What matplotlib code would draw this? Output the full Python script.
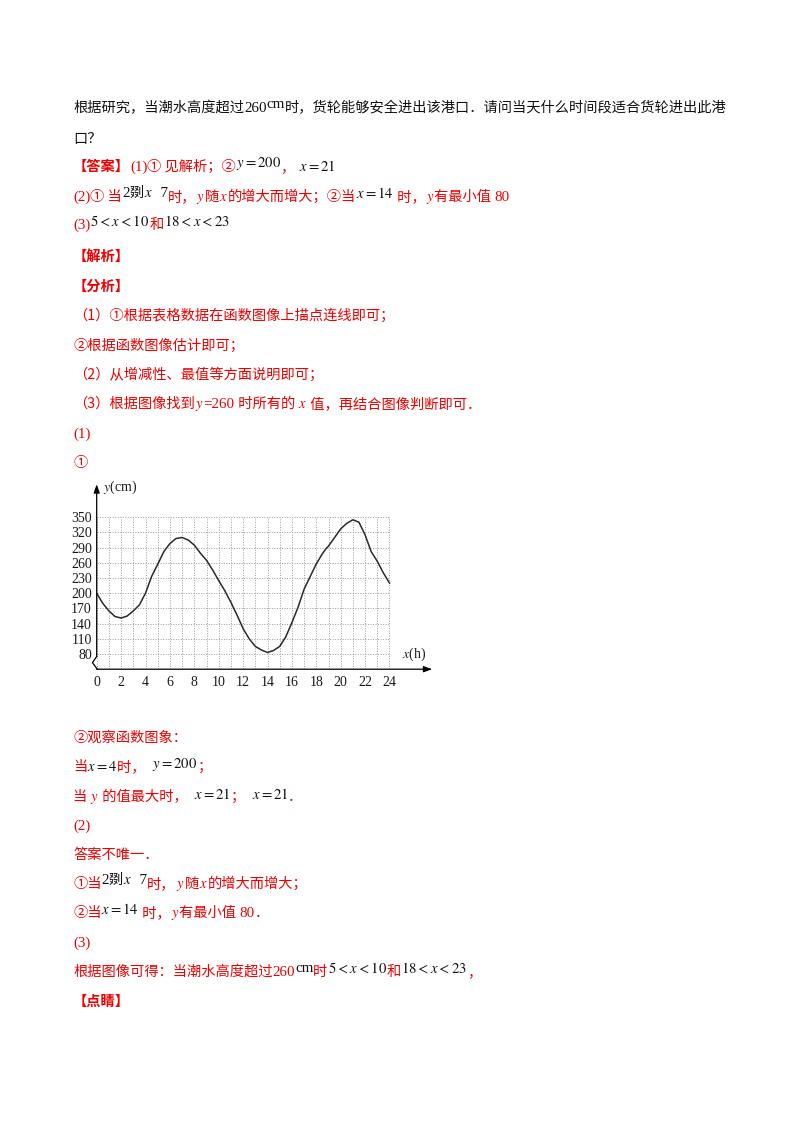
import matplotlib
matplotlib.use('Agg')
import matplotlib.pyplot as plt

plt.rcParams['mathtext.fontset'] = 'stix'

W, H = 800, 1132
CN = ['Noto Sans CJK SC', 'DejaVu Sans']
SERIF = ['Liberation Serif', 'DejaVu Serif']
RED = '#f00000'
K = '#111111'

# tide height: hour of day -> height in cm
hours = [0, 0.5, 1, 1.5, 2, 2.5, 3, 3.5, 4, 4.5, 5, 5.5, 6, 6.5, 7, 7.5, 8, 8.5,
         9, 9.5, 10, 10.5, 11, 11.5, 12, 12.5, 13, 13.5, 14, 14.5, 15, 15.5, 16,
         16.5, 17, 17.5, 18, 18.5, 18.8, 19, 19.5, 20, 20.5, 21, 21.5, 22, 22.5,
         23, 23.5, 24]
height = [200, 180, 165, 154, 151, 155, 165, 177, 200, 233, 257, 282, 298, 308,
          310, 305, 295, 279, 265, 246, 225, 205, 182, 157, 130, 110, 95, 88, 83,
          87, 95, 114, 142, 172, 208, 233, 258, 278, 288, 293, 310, 327, 338, 345,
          340, 315, 282, 263, 240, 220]

x_ticks = [0, 2, 4, 6, 8, 10, 12, 14, 16, 18, 20, 22, 24]
y_ticks = [80, 110, 140, 170, 200, 230, 260, 290, 320, 350]
grid_hours = list(range(0, 25))

fig = plt.figure(figsize=(8, 11.32), dpi=100)
renderer = fig.canvas.get_renderer()


def write(y, parts, x=73):
    """Place a row of text runs one after another, y = line centre in px."""
    for part in parts:
        text, color, kind = part[:3]
        dy = part[3] if len(part) > 3 else 0
        kw = dict(color=color, va='baseline', ha='left')
        if kind == 'cn':
            kw.update(family=CN, size=10.25)
        elif kind == 'cnb':
            kw.update(family=CN, size=10.25, weight='bold')
        elif kind == 'rm':
            kw.update(family=SERIF, size=10.8)
        else:  # math
            kw.update(family=SERIF, size=10.6)
        t = fig.text(x / W, 1 - (y + 5 - dy) / H, text, **kw)
        x += t.get_window_extent(renderer).width


# ---- text above the chart ----
write(107, [('根据研究，当潮水高度超过', K, 'cn'), ('260', K, 'rm'), ('cm', K, 'rm', 4),
            ('时，货轮能够安全进出该港口．请问当天什么时间段适合货轮进出此港', K, 'cn')])
write(138, [('口？', K, 'cn')])
write(166, [('【答案】', RED, 'cnb'), ('(1)', RED, 'rm'), ('① 见解析；②', RED, 'cn'),
            (r'$y=200$', K, 'm', 4), ('， ', RED, 'cn'), (r'$x=21$', K, 'm')])
write(196, [('(2)', RED, 'rm'), ('① 当', RED, 'cn'), ('2', K, 'rm', 4), ('剟', K, 'cn', 4),
            (r'$x$', K, 'm', 4), ('  7', K, 'rm', 4), ('时，', RED, 'cn'), (r'$y$', RED, 'm'),
            ('随', RED, 'cn'), (r'$x$', RED, 'm'), ('的增大而增大；②当', RED, 'cn'),
            (r'$x=14$', K, 'm', 3), (' 时，', RED, 'cn'), (r'$y$', RED, 'm'),
            ('有最小值 ', RED, 'cn'), ('80', RED, 'rm')])
write(224, [('(3)', RED, 'rm'), (r'$5<x<10$', K, 'm', 3), ('和', RED, 'cn'),
            (r'$18<x<23$', K, 'm', 3)])
write(256, [('【解析】', RED, 'cnb')])
write(286, [('【分析】', RED, 'cnb')])
write(315, [('（1）①根据表格数据在函数图像上描点连线即可；', RED, 'cn')])
write(345, [('②根据函数图像估计即可；', RED, 'cn')])
write(374, [('（2）从增减性、最值等方面说明即可；', RED, 'cn')])
write(403, [('（3）根据图像找到', RED, 'cn'), (r'$y$', RED, 'm'), ('=260', RED, 'rm'),
            (' 时所有的 ', RED, 'cn'), (r'$x$', RED, 'm'), (' 值，再结合图像判断即可．', RED, 'cn')])
write(433, [('(1)', RED, 'rm')])
write(462, [('①', RED, 'cn')])

# ---- chart ----
ax = fig.add_axes([96.7 / W, 1 - 669.2 / H, (432.2 - 96.7) / W, (669.2 - 484.3) / H])
ax.set_xlim(0, 27.5)
ax.set_ylim(50, 415)
for s in ax.spines.values():
    s.set_visible(False)
ax.patch.set_alpha(0)

ax.vlines(grid_hours, 50, 350, colors='#9a9a9a', lw=0.7, linestyles=(0, (1, 1.6)))
ax.hlines(y_ticks, 0, 24, colors='#9a9a9a', lw=0.7, linestyles=(0, (1, 1.6)))
ax.plot(hours, height, color='#2a2a2a', lw=1.1)

ax.set_xticks(x_ticks)
ax.set_yticks(y_ticks)
ax.tick_params(length=0, labelsize=10, labelcolor='#1a1a1a')
ax.tick_params(axis='x', pad=5)
ax.tick_params(axis='y', pad=3.5)
for lab in ax.get_xticklabels() + ax.get_yticklabels():
    lab.set_family(SERIF)

arrow = dict(arrowstyle='-|>,head_length=0.5,head_width=0.18', color='k', lw=0.9,
             shrinkA=0, shrinkB=0)
ax.annotate('', xy=(0, 415), xytext=(0, 75), arrowprops=arrow, annotation_clip=False)
ax.annotate('', xy=(27.5, 50), xytext=(0, 50), arrowprops=arrow, annotation_clip=False)
ax.plot([0, -0.35, 0.05], [75, 63, 50], color='k', lw=0.9, clip_on=False)

ax.text(0.5, 410, r'$y$(cm)', family=SERIF, size=10, va='center', ha='left', color='#1a1a1a')
ax.text(25.0, 80, r'$x$(h)', family=SERIF, size=10, va='center', ha='left', color='#1a1a1a')

# ---- text below the chart ----
write(737, [('②观察函数图象：', RED, 'cn')])
write(766, [('当', RED, 'cn'), (r'$x=4$', K, 'm'), ('时，  ', RED, 'cn'), (r'$y=200$', K, 'm', 3),
            ('；', RED, 'cn')])
write(796, [('当 ', RED, 'cn'), (r'$y$', RED, 'm'), (' 的值最大时，  ', RED, 'cn'),
            (r'$x=21$', K, 'm', 2), ('；  ', RED, 'cn'), (r'$x=21$', K, 'm', 2), ('．', RED, 'cn')])
write(825, [('(2)', RED, 'rm')])
write(854, [('答案不唯一．', RED, 'cn')])
write(883, [('①当', RED, 'cn'), ('2', K, 'rm', 4), ('剟', K, 'cn', 4), (r'$x$', K, 'm', 4),
            ('  7', K, 'rm', 4), ('时，', RED, 'cn'), (r'$y$', RED, 'm'), ('随', RED, 'cn'),
            (r'$x$', RED, 'm'), ('的增大而增大；', RED, 'cn')])
write(912, [('②当', RED, 'cn'), (r'$x=14$', K, 'm', 3), (' 时，', RED, 'cn'), (r'$y$', RED, 'm'),
            ('有最小值 ', RED, 'cn'), ('80', RED, 'rm'), ('．', RED, 'cn')])
write(942, [('(3)', RED, 'rm')])
write(971, [('根据图像可得：当潮水高度超过', RED, 'cn'), ('260', RED, 'rm'), ('cm', K, 'rm', 4),
            ('时', RED, 'cn'), (r'$5<x<10$', K, 'm', 3), ('和', RED, 'cn'),
            (r'$18<x<23$', K, 'm', 3), ('，', RED, 'cn')])
write(1001, [('【点睛】', RED, 'cnb')])

fig.savefig('out.png', dpi=100)
